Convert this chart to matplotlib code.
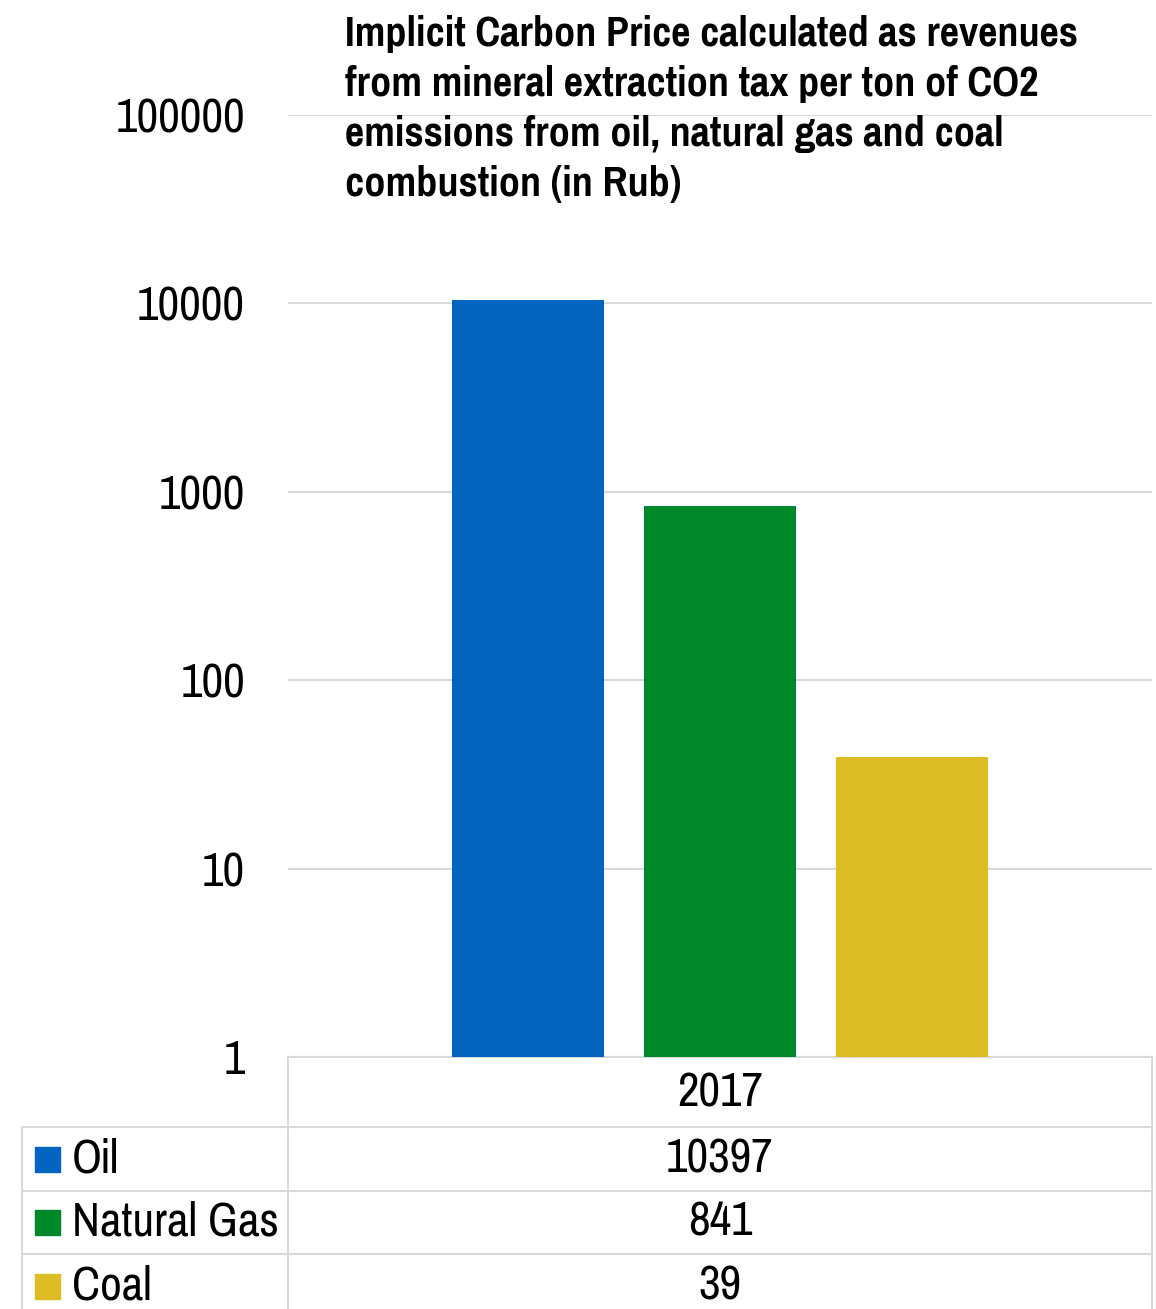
import matplotlib
matplotlib.use("Agg")
from matplotlib import pyplot as plt
from matplotlib.ticker import FixedLocator, FixedFormatter

# data
year = "2017"
fuels = ["Oil", "Natural Gas", "Coal"]
values = [10397, 841, 39]
colors = ["#0365C0", "#00882B", "#DCBD23"]
y_ticks = [1, 10, 100, 1000, 10000, 100000]
y_labels = ["1", "10", "100", "1000", "10000", "100000"]
title = ("Implicit Carbon Price calculated as revenues\n"
         "from mineral extraction tax per ton of CO2\n"
         "emissions from oil, natural gas and coal\n"
         "combustion (in Rub)")

plt.rcParams["font.family"] = ["Pragati Narrow", "Roboto Condensed", "DejaVu Sans"]
grid_col = "#d9d9d9"
W, H = 1156, 1309
fs = 37

fig = plt.figure(figsize=(W / 100, H / 100), dpi=100)

# overlay in pixel coords for the data table
ov = fig.add_axes([0, 0, 1, 1])
ov.set_xlim(0, W)
ov.set_ylim(H, 0)
ov.axis("off")

ax = fig.add_axes([288 / W, 1 - 1057 / H, 864 / W, 942 / H])
pos = [i - 1 for i in range(len(fuels))]
ax.bar(pos, values, width=0.787, color=colors, zorder=3)
ax.set_yscale("log")
ax.set_ylim(1, 100000)
ax.set_xlim(-2.25, 2.25)
ax.yaxis.set_major_locator(FixedLocator(y_ticks))
ax.yaxis.set_major_formatter(FixedFormatter(y_labels))
ax.yaxis.set_minor_locator(FixedLocator([]))
ax.tick_params(axis="y", length=0, pad=31, labelsize=fs)
ax.set_xticks([])
ax.grid(axis="y", color=grid_col, lw=1.5, zorder=0)
for s in ["left", "right", "top"]:
    ax.spines[s].set_visible(False)
ax.spines["bottom"].set_color(grid_col)
ax.spines["bottom"].set_linewidth(1.5)

fig.text(345 / W, 1 - 15 / H, title, ha="left", va="top", fontsize=33,
         fontweight="bold", linespacing=1.39)

# data table
lw = 1.5
row_y = [1127, 1191, 1254]
for y in row_y:
    ov.plot([22, 1152], [y, y], color=grid_col, lw=lw)
ov.plot([22, 22], [1127, H], color=grid_col, lw=lw)
ov.plot([288, 288], [1057, H], color=grid_col, lw=lw)
ov.plot([1152, 1152], [1057, H], color=grid_col, lw=lw)

ov.text(720, 1093, year, ha="center", va="center", fontsize=fs)
row_mid = [1159, 1222, 1286]
for name, v, c, ym in zip(fuels, values, colors, row_mid):
    ov.add_patch(plt.Rectangle((35, ym - 12), 25, 25, color=c))
    ov.text(72, ym, name, ha="left", va="center", fontsize=fs)
    ov.text(720, ym, str(v), ha="center", va="center", fontsize=fs)

fig.savefig("out.png", dpi=100)
